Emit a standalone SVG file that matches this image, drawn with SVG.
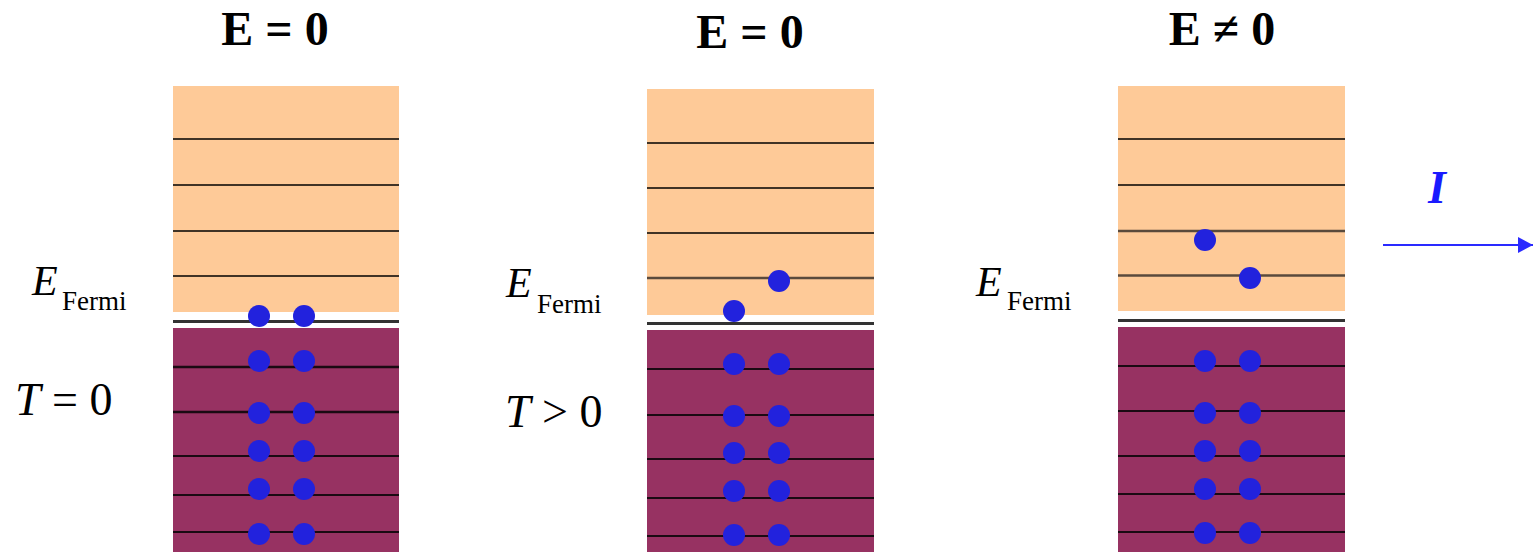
<svg xmlns="http://www.w3.org/2000/svg" width="1538" height="552" viewBox="0 0 1538 552">
<defs>
<style>
.cb{fill:#FECA98}
.vb{fill:#973262}
.ol{stroke:#000;stroke-width:1.6}
.ox{stroke:#5a4a3c;stroke-width:2.6}
.pl{stroke:#1a0a12;stroke-width:2}
.fl{stroke:#333;stroke-width:3}
.dot{fill:#2222DD}
.t{font-family:"Liberation Serif",serif;fill:#000}
.ti{font-family:"Liberation Serif",serif;font-weight:bold;font-size:48px;text-anchor:middle}
.sub{font-family:"Liberation Serif",serif;font-size:27px;fill:#000}
</style>
<marker id="ah" markerWidth="16" markerHeight="16" refX="15" refY="8" orient="auto" markerUnits="userSpaceOnUse">
<path d="M0,0 L15,8 L0,16 Z" fill="#2a2aff"/>
</marker>
</defs>
<rect width="1538" height="552" fill="#fff"/>

<g id="panel1">
<text class="t ti" x="275" y="45">E = 0</text>
<rect class="cb" x="173" y="86" width="226" height="226"/>
<line class="ol" x1="173" y1="139" x2="399" y2="139"/>
<line class="ol" x1="173" y1="185" x2="399" y2="185"/>
<line class="ol" x1="173" y1="231" x2="399" y2="231"/>
<line class="ol" x1="173" y1="276" x2="399" y2="276"/>
<line class="fl" x1="173" y1="321.5" x2="399" y2="321.5"/>
<rect class="vb" x="173" y="328" width="226" height="224"/>
<line class="pl" x1="173" y1="367" x2="399" y2="367" style="stroke-width:2.6"/>
<line class="pl" x1="173" y1="412" x2="399" y2="412" style="stroke-width:2.6"/>
<line class="pl" x1="173" y1="456" x2="399" y2="456"/>
<line class="pl" x1="173" y1="495" x2="399" y2="495"/>
<line class="pl" x1="173" y1="532" x2="399" y2="532"/>
<g class="dot">
<circle cx="259" cy="316" r="11"/><circle cx="304" cy="316" r="11"/>
<circle cx="259" cy="361" r="11"/><circle cx="304" cy="361" r="11"/>
<circle cx="259" cy="413" r="11"/><circle cx="304" cy="413" r="11"/>
<circle cx="259" cy="451" r="11"/><circle cx="304" cy="451" r="11"/>
<circle cx="259" cy="489" r="11"/><circle cx="304" cy="489" r="11"/>
<circle cx="259" cy="534" r="11"/><circle cx="304" cy="534" r="11"/>
</g>
<text class="t" x="32" y="295" font-size="42" font-style="italic">E</text>
<text class="sub" x="62" y="310">Fermi</text>
<text class="t" x="15" y="415" font-size="46"><tspan font-style="italic">T</tspan><tspan> = 0</tspan></text>
</g>

<g id="panel2">
<text class="t ti" x="750" y="48">E = 0</text>
<rect class="cb" x="647" y="89" width="227" height="226"/>
<line class="ol" x1="647" y1="143" x2="874" y2="143"/>
<line class="ol" x1="647" y1="188" x2="874" y2="188"/>
<line class="ol" x1="647" y1="233" x2="874" y2="233"/>
<line class="ox" x1="647" y1="278" x2="874" y2="278"/>
<line class="fl" x1="647" y1="323.5" x2="874" y2="323.5"/>
<rect class="vb" x="647" y="330" width="227" height="222"/>
<line class="pl" x1="647" y1="369" x2="874" y2="369"/>
<line class="pl" x1="647" y1="415" x2="874" y2="415"/>
<line class="pl" x1="647" y1="459" x2="874" y2="459"/>
<line class="pl" x1="647" y1="498" x2="874" y2="498"/>
<line class="pl" x1="647" y1="536" x2="874" y2="536"/>
<g class="dot">
<circle cx="779" cy="281" r="11"/><circle cx="734" cy="311" r="11"/>
<circle cx="734" cy="364" r="11"/><circle cx="779" cy="364" r="11"/>
<circle cx="734" cy="416" r="11"/><circle cx="779" cy="416" r="11"/>
<circle cx="734" cy="453" r="11"/><circle cx="779" cy="453" r="11"/>
<circle cx="734" cy="491" r="11"/><circle cx="779" cy="491" r="11"/>
<circle cx="734" cy="535" r="11"/><circle cx="779" cy="535" r="11"/>
</g>
<text class="t" x="506" y="297" font-size="42" font-style="italic">E</text>
<text class="sub" x="537" y="313">Fermi</text>
<text class="t" x="505" y="427" font-size="46"><tspan font-style="italic">T</tspan><tspan> &gt; 0</tspan></text>
</g>

<g id="panel3">
<text class="t ti" x="1222" y="45">E ≠ 0</text>
<rect class="cb" x="1118" y="86" width="227" height="225"/>
<line class="ol" x1="1118" y1="139" x2="1345" y2="139"/>
<line class="ol" x1="1118" y1="185" x2="1345" y2="185"/>
<line class="ox" x1="1118" y1="231" x2="1345" y2="231"/>
<line class="ox" x1="1118" y1="275.5" x2="1345" y2="275.5"/>
<line class="fl" x1="1118" y1="320.5" x2="1345" y2="320.5"/>
<rect class="vb" x="1118" y="327" width="227" height="225"/>
<line class="pl" x1="1118" y1="366" x2="1345" y2="366"/>
<line class="pl" x1="1118" y1="411" x2="1345" y2="411"/>
<line class="pl" x1="1118" y1="456" x2="1345" y2="456"/>
<line class="pl" x1="1118" y1="494" x2="1345" y2="494"/>
<line class="pl" x1="1118" y1="532" x2="1345" y2="532"/>
<g class="dot">
<circle cx="1205" cy="240" r="11"/><circle cx="1250" cy="278" r="11"/>
<circle cx="1205" cy="361" r="11"/><circle cx="1250" cy="361" r="11"/>
<circle cx="1205" cy="413" r="11"/><circle cx="1250" cy="413" r="11"/>
<circle cx="1205" cy="451" r="11"/><circle cx="1250" cy="451" r="11"/>
<circle cx="1205" cy="489" r="11"/><circle cx="1250" cy="489" r="11"/>
<circle cx="1205" cy="533" r="11"/><circle cx="1250" cy="533" r="11"/>
</g>
<text class="t" x="976" y="296" font-size="42" font-style="italic">E</text>
<text class="sub" x="1007" y="310">Fermi</text>
</g>

<g id="connectors">
<line x1="1383" y1="245" x2="1533" y2="245" stroke="#2a2aff" stroke-width="2" marker-end="url(#ah)"/>
<text x="1428" y="203" font-family="Liberation Serif, serif" font-size="46" font-style="italic" font-weight="bold" fill="#1a1aff">I</text>
</g>
</svg>
